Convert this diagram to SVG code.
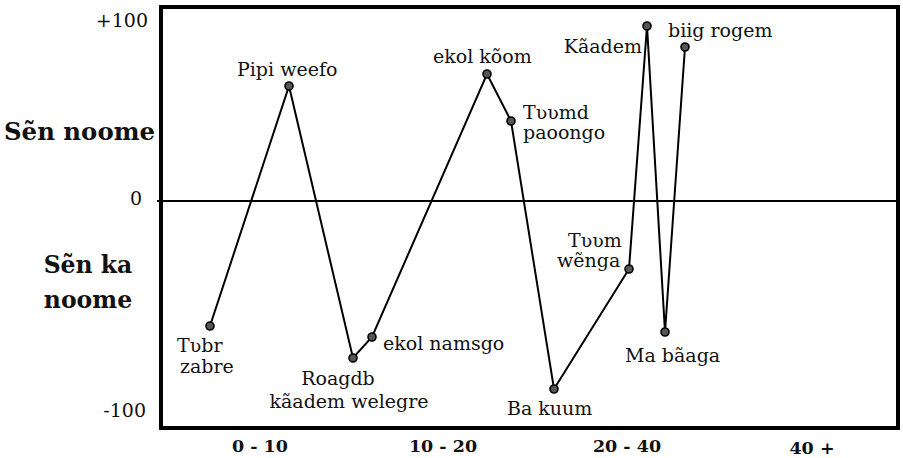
<svg xmlns="http://www.w3.org/2000/svg" width="903" height="458" viewBox="0 0 903 458">
<style>
.lbl{font-family:"DejaVu Serif","Liberation Serif",serif;font-size:19px;fill:#111}
.axl{font-family:"DejaVu Serif","Liberation Serif",serif;font-size:23.5px;font-weight:bold;fill:#111}
.xl{font-family:"DejaVu Serif","Liberation Serif",serif;font-size:17.5px;font-weight:bold;fill:#111}
.pt{fill:#555;stroke:#000;stroke-width:1.6}
.seg{stroke:#000;stroke-width:2;fill:none}
</style>
<rect width="903" height="458" fill="#fff"/>
<g id="frame">
<rect x="161" y="7" width="737" height="421" fill="none" stroke="#000" stroke-width="4"/>
<line x1="157" y1="201" x2="900" y2="201" stroke="#000" stroke-width="2"/>
</g>
<g id="y-axis">
<text class="lbl" x="148" y="27" text-anchor="end">+100</text>
<text class="lbl" x="142" y="205" text-anchor="end">0</text>
<text class="lbl" x="146" y="417" text-anchor="end">-100</text>
<text class="axl" x="4" y="140" textLength="151" lengthAdjust="spacingAndGlyphs">Sẽn noome</text>
<text class="axl" x="88" y="273" text-anchor="middle">Sẽn ka</text>
<text class="axl" x="88" y="308" text-anchor="middle">noome</text>
</g>
<g id="x-axis">
<text class="xl" x="260" y="452" text-anchor="middle">0 - 10</text>
<text class="xl" x="443" y="452" text-anchor="middle">10 - 20</text>
<text class="xl" x="627" y="452" text-anchor="middle">20 - 40</text>
<text class="xl" x="812" y="454" text-anchor="middle">40 +</text>
</g>
<g id="connectors">
<polyline class="seg" points="210,326 289,86 353,358 372,337 487,74 511,121 554,389 629,269 647,26 665,332 685,47"/>
</g>
<g id="n-tubr-zabre">
<circle class="pt" cx="210" cy="326" r="4"/>
<text class="lbl" x="177" y="352">Tʋbr</text>
<text class="lbl" x="180" y="373">zabre</text>
</g>
<g id="n-pipi-weefo">
<circle class="pt" cx="289" cy="86" r="4"/>
<text class="lbl" x="237" y="76">Pipi weefo</text>
</g>
<g id="n-roagdb">
<circle class="pt" cx="353" cy="358" r="4"/>
<text class="lbl" x="338" y="385" text-anchor="middle">Roagdb</text>
<text class="lbl" x="349" y="408" text-anchor="middle">kãadem welegre</text>
</g>
<g id="n-ekol-namsgo">
<circle class="pt" cx="372" cy="337" r="4"/>
<text class="lbl" x="383" y="350">ekol namsgo</text>
</g>
<g id="n-ekol-koom">
<circle class="pt" cx="487" cy="74" r="4"/>
<text class="lbl" x="433" y="63">ekol kõom</text>
</g>
<g id="n-tuumd-paoongo">
<circle class="pt" cx="511" cy="121" r="4"/>
<text class="lbl" x="523" y="119">Tʋʋmd</text>
<text class="lbl" x="523" y="139">paoongo</text>
</g>
<g id="n-ba-kuum">
<circle class="pt" cx="554" cy="389" r="4"/>
<text class="lbl" x="507" y="415">Ba kuum</text>
</g>
<g id="n-tuum-wenga">
<circle class="pt" cx="629" cy="269" r="4"/>
<text class="lbl" x="568" y="247">Tʋʋm</text>
<text class="lbl" x="557" y="267">wẽnga</text>
</g>
<g id="n-kaadem">
<circle class="pt" cx="647" cy="26" r="4"/>
<text class="lbl" x="642" y="53" text-anchor="end">Kãadem</text>
</g>
<g id="n-ma-baaga">
<circle class="pt" cx="665" cy="332" r="4"/>
<text class="lbl" x="625" y="362">Ma bãaga</text>
</g>
<g id="n-biig-rogem">
<circle class="pt" cx="685" cy="47" r="4"/>
<text class="lbl" x="668" y="37">biig rogem</text>
</g>
</svg>
